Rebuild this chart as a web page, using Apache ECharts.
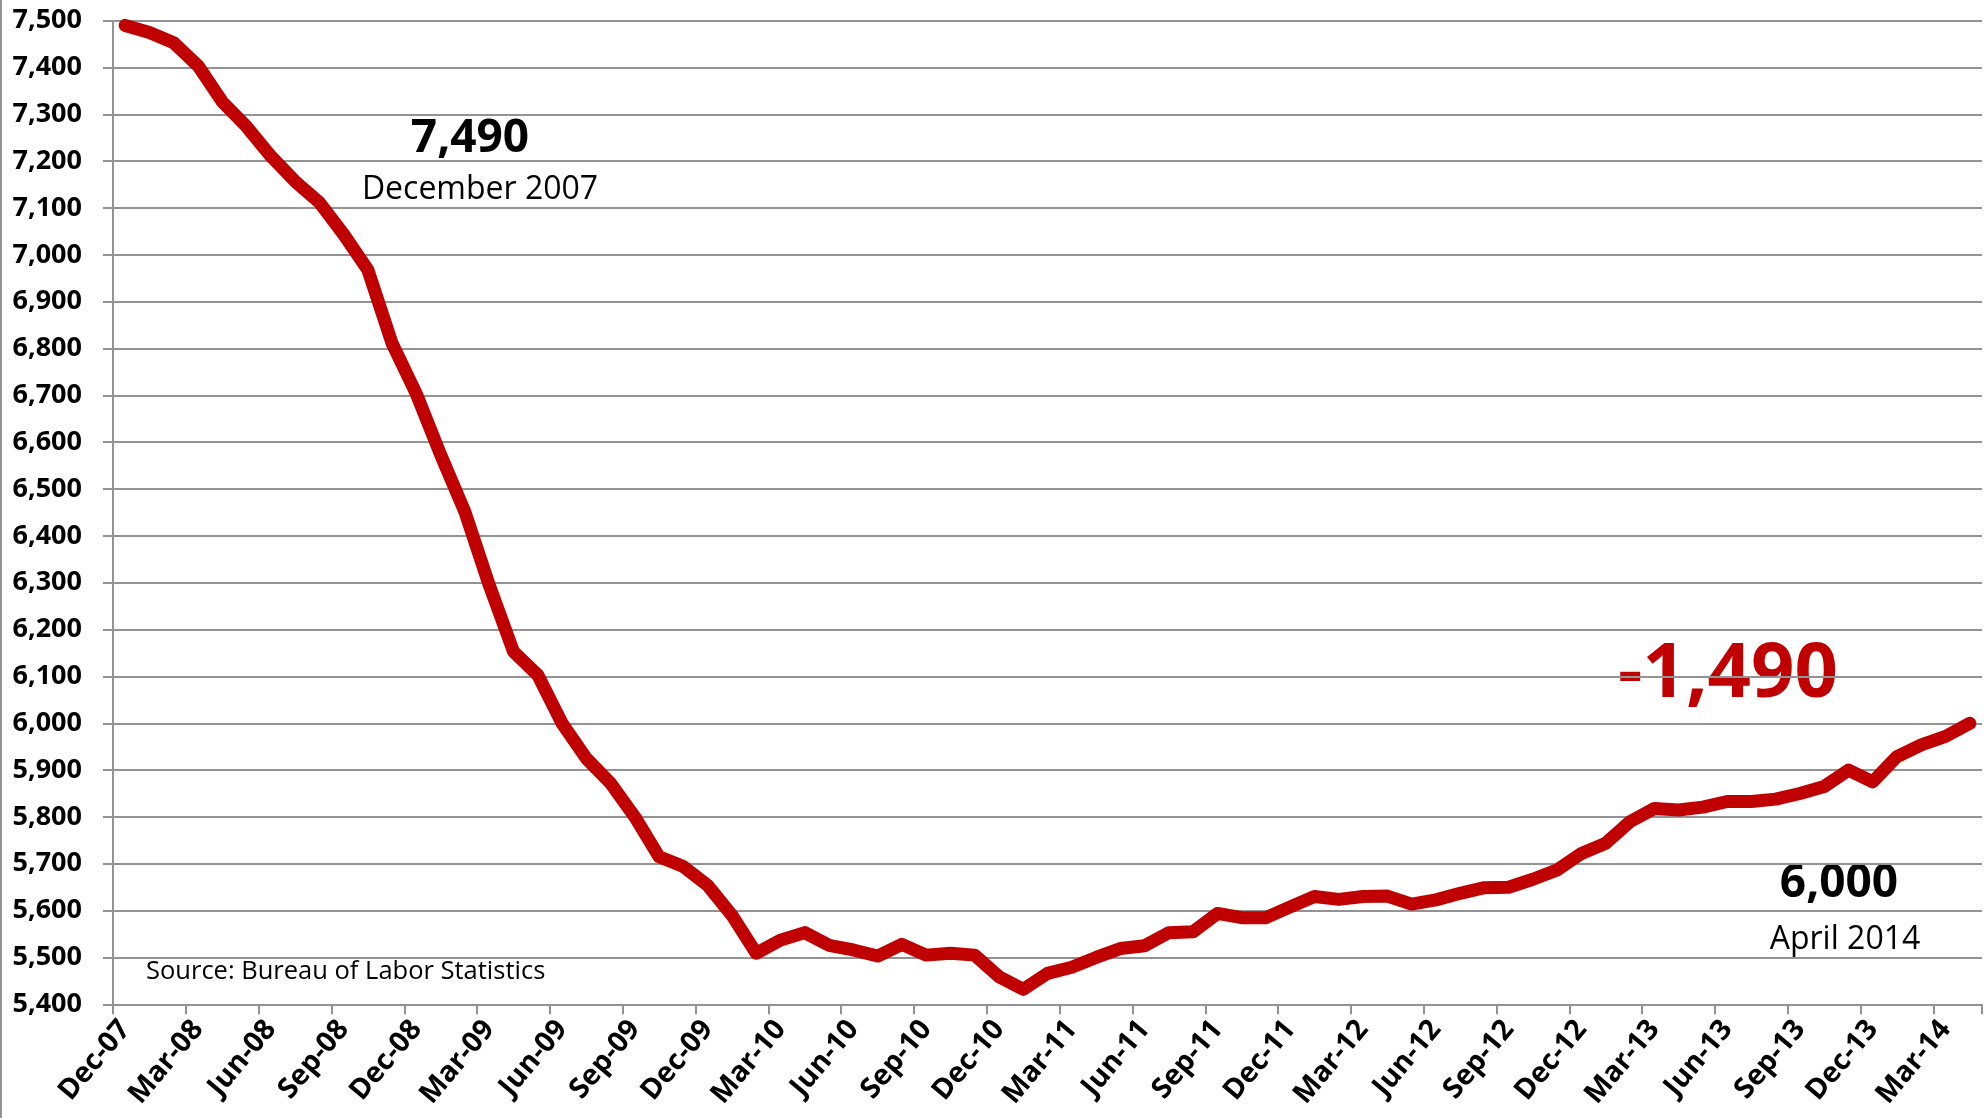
<!DOCTYPE html>
<html>
<head>
<meta charset="utf-8">
<script src="https://cdn.jsdelivr.net/npm/echarts@6/dist/echarts.min.js"></script>
<style>
html,body{margin:0;padding:0;background:#fff;}
#chart{width:1986px;height:1118px;}
</style>
</head>
<body>
<div id="chart"></div>
<script>
const months = [
 'Dec-07',
 'Jan-08','Feb-08','Mar-08','Apr-08','May-08','Jun-08','Jul-08','Aug-08','Sep-08','Oct-08','Nov-08','Dec-08',
 'Jan-09','Feb-09','Mar-09','Apr-09','May-09','Jun-09','Jul-09','Aug-09','Sep-09','Oct-09','Nov-09','Dec-09',
 'Jan-10','Feb-10','Mar-10','Apr-10','May-10','Jun-10','Jul-10','Aug-10','Sep-10','Oct-10','Nov-10','Dec-10',
 'Jan-11','Feb-11','Mar-11','Apr-11','May-11','Jun-11','Jul-11','Aug-11','Sep-11','Oct-11','Nov-11','Dec-11',
 'Jan-12','Feb-12','Mar-12','Apr-12','May-12','Jun-12','Jul-12','Aug-12','Sep-12','Oct-12','Nov-12','Dec-12',
 'Jan-13','Feb-13','Mar-13','Apr-13','May-13','Jun-13','Jul-13','Aug-13','Sep-13','Oct-13','Nov-13','Dec-13',
 'Jan-14','Feb-14','Mar-14','Apr-14'
];
const employment = [
 7490,
 7475,7453,7404,7327,7274,7211,7157,7112,7044,6968,6811,6703,
 6573,6451,6295,6153,6103,6000,5925,5872,5800,5715,5694,5654,
 5590,5509,5537,5553,5526,5516,5503,5528,5505,5509,5505,5459,
 5432,5466,5479,5500,5519,5525,5553,5555,5594,5585,5585,5608,
 5630,5624,5630,5631,5614,5623,5637,5649,5650,5667,5687,5722,
 5744,5790,5818,5815,5821,5833,5833,5838,5850,5865,5900,5875,
 5929,5954,5972,6000
];
const yMin = 5400, yMax = 7500, yStep = 100;
const startLabel = '7,490', startDate = 'December 2007';
const endLabel = '6,000', endDate = 'April 2014';
const changeLabel = '-1,490';
const sourceText = 'Source: Bureau of Labor Statistics';

const FONT = '"Open Sans", "Noto Sans", sans-serif';
const gridColor = '#939393';
const chart = echarts.init(document.getElementById('chart'), null, {renderer:'canvas'});
chart.setOption({
  animation:false,
  backgroundColor:'#ffffff',
  grid:{left:113, right:4, top:20.7, bottom:113.7, containLabel:false},
  xAxis:{
    type:'category',
    data:months,
    boundaryGap:true,
    axisLine:{show:true, lineStyle:{color:gridColor, width:2}},
    axisTick:{show:true, interval:2, length:10, lineStyle:{color:gridColor, width:2}},
    axisLabel:{interval:2, rotate:50, margin:20, fontFamily:FONT, fontWeight:'bold', fontSize:28.5, color:'#000'},
    splitLine:{show:false}
  },
  yAxis:{
    type:'value',
    min:yMin, max:yMax, interval:yStep,
    axisLine:{show:true, lineStyle:{color:gridColor, width:2}},
    axisTick:{show:true, length:10, lineStyle:{color:gridColor, width:2}},
    axisLabel:{margin:31, fontFamily:FONT, fontWeight:'bold', fontSize:27, color:'#000',
      formatter:v=>v.toLocaleString('en-US')},
    splitLine:{show:true, lineStyle:{color:gridColor, width:2}}
  },
  series:[{
    type:'line',
    data:employment,
    symbol:'none',
    lineStyle:{color:'#c00000', width:13, cap:'round', join:'round'},
    z:5
  }],
  graphic:[
    {type:'line', shape:{x1:1, y1:0, x2:1, y2:1118}, style:{stroke:gridColor, lineWidth:2}},
    {type:'text', x:470, y:139, style:{text:startLabel, font:'bold 46px '+FONT, fill:'#000', textAlign:'center', textVerticalAlign:'middle'}},
    {type:'text', x:480, y:190, style:{text:startDate, font:'32px '+FONT, fill:'#000', textAlign:'center', textVerticalAlign:'middle'}},
    {type:'text', x:1728, y:675, style:{text:changeLabel, font:'bold 76px '+FONT, fill:'#c00000', textAlign:'center', textVerticalAlign:'middle'}},
    {type:'text', x:1839, y:884, style:{text:endLabel, font:'bold 46px '+FONT, fill:'#000', textAlign:'center', textVerticalAlign:'middle'}},
    {type:'text', x:1845, y:940, style:{text:endDate, font:'32px '+FONT, fill:'#000', textAlign:'center', textVerticalAlign:'middle'}},
    {type:'text', x:146, y:972, style:{text:sourceText, font:'25.5px '+FONT, fill:'#000', textAlign:'left', textVerticalAlign:'middle'}}
  ]
});
</script>
</body>
</html>
